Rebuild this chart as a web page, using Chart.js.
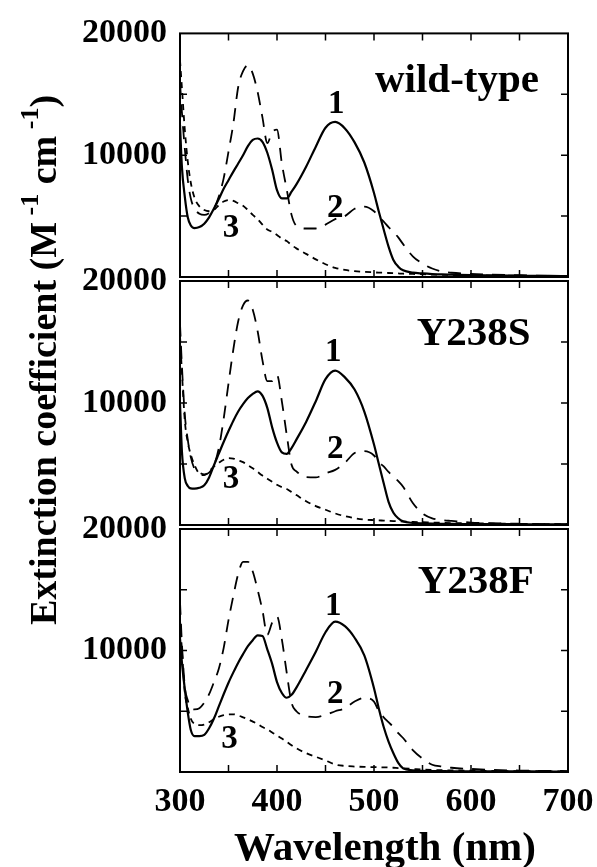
<!DOCTYPE html>
<html>
<head>
<meta charset="utf-8">
<script src="https://cdn.jsdelivr.net/npm/chart.js@4.4.0/dist/chart.umd.min.js"></script>
<style>
  body { margin: 0; background: #fff; }
  #wrap { position: relative; width: 597px; height: 867px; }
  #wrap canvas { position: absolute; left: 0; top: 0; }
</style>
</head>
<body>
<div id="wrap">
  <canvas id="p1" width="597" height="867"></canvas>
  <canvas id="p2" width="597" height="867"></canvas>
  <canvas id="p3" width="597" height="867"></canvas>
</div>
<script>
// wavelength grid (nm) shared by every curve
const wavelengths = [300, 302, 305, 308, 311, 315, 320, 325, 330, 335, 340, 345, 350, 355, 360, 365, 370, 375, 380, 385,
  390, 395, 400, 405, 410, 415, 420, 430, 440, 450, 460, 470, 480, 490, 500, 505, 510, 515, 520, 525,
  530, 540, 550, 560, 570, 580, 600, 620, 650, 680, 700];

// wild-type
const wt1 = [12500, 9000, 6560, 4900, 4250, 4020, 4100, 4380, 4900, 5620, 6400, 7250, 7950, 8650, 9320, 10000, 10750, 11250, 11370, 11100,
  10200, 8800, 7130, 6450, 6450, 7000, 7600, 9050, 10700, 12250, 12730, 12200, 11050, 9400, 6900, 5350, 3900, 2500, 1400, 850,
  550, 360, 290, 240, 210, 190, 150, 130, 110, 90, 80];
const wt2 = [16000, 13500, 10500, 8000, 6500, 5600, 5200, 5100, 5250, 5600, 6600, 8100, 10300, 12600, 15600, 16900, 17380, 16700, 15200, 13100,
  11000, 11900, 12100, 9320, 7200, 5100, 4200, 3980, 3980, 4300, 4750, 5000, 5600, 5780, 5400, 4950, 4550, 4100, 3700, 3250,
  2700, 1700, 1100, 700, 450, 350, 250, 200, 150, 100, 80];
const wt3 = [17800, 15500, 12050, 9500, 7800, 6500, 5800, 5500, 5400, 5500, 5900, 6200, 6320, 6250, 6050, 5850, 5500, 5100, 4750, 4300,
  3900, 3700, 3450, 3150, 2950, 2620, 2350, 1900, 1450, 1050, 750, 580, 480, 420, 380, 360, 350, 330, 310, 290,
  270, 250, 230, 200, 180, 160, 140, 120, 100, 80, 70];

// Y238S
const s1 = [10000, 6000, 3800, 3200, 3000, 2980, 3050, 3250, 3900, 4900, 5850, 6800, 7700, 8550, 9300, 9900, 10400, 10750, 10960, 10600,
  9600, 8000, 6750, 5950, 5830, 6310, 7000, 8450, 10150, 11950, 12650, 12100, 11100, 9300, 6600, 5000, 3420, 1900, 1000, 550,
  300, 170, 130, 110, 100, 90, 80, 70, 60, 50, 50];
const s2 = [16500, 13000, 9000, 7000, 5600, 4600, 4300, 4150, 4300, 4900, 6300, 8700, 11600, 14400, 16700, 18000, 18400, 17650, 15900, 13500,
  11800, 11800, 12300, 10140, 7400, 4940, 4400, 3920, 3900, 4230, 4520, 5100, 5900, 6050, 5700, 5150, 4800, 4350, 3950, 3600,
  3140, 1800, 950, 550, 400, 330, 200, 150, 100, 70, 50];
const s3 = [15500, 12500, 8520, 6800, 5800, 4900, 4200, 4100, 4400, 4800, 5100, 5350, 5480, 5450, 5300, 5150, 4900, 4650, 4350, 4050,
  3800, 3550, 3300, 3100, 2950, 2700, 2450, 1950, 1550, 1250, 950, 720, 560, 450, 400, 380, 360, 340, 320, 300,
  280, 250, 230, 200, 180, 160, 140, 120, 90, 70, 60];

// Y238F
const f1 = [11000, 9000, 6800, 4900, 3500, 2950, 2950, 3050, 3600, 4400, 5400, 6400, 7350, 8200, 9000, 9700, 10350, 10850, 11250, 11200,
  10100, 8900, 7400, 6500, 6110, 6350, 6950, 8400, 9900, 11500, 12370, 12000, 11050, 9600, 6900, 5200, 3700, 2500, 1540, 750,
  300, 130, 90, 80, 70, 60, 60, 60, 50, 40, 40];
const f2 = [14000, 10500, 7000, 5900, 5300, 5150, 5250, 5700, 6400, 7400, 8500, 10200, 12500, 14500, 16300, 17300, 17300, 16500, 15000, 13300,
  11300, 12300, 12800, 10920, 8170, 5700, 5000, 4600, 4520, 4700, 5000, 5250, 5800, 6100, 5800, 5000, 4500, 4100, 3700, 3200,
  2800, 1800, 1100, 600, 450, 350, 250, 180, 120, 90, 80];
const f3 = [12500, 10000, 6530, 5300, 4400, 3950, 3850, 3900, 4100, 4350, 4550, 4680, 4750, 4750, 4650, 4500, 4340, 4150, 3950, 3700,
  3500, 3250, 3000, 2750, 2480, 2200, 1950, 1550, 1250, 950, 620, 500, 450, 420, 400, 390, 380, 370, 350, 320,
  300, 250, 200, 170, 150, 130, 110, 90, 70, 60, 50];

const panelNames = ['wild-type', 'Y238S', 'Y238F'];
// panel name anchor (left edge nm, baseline value)
const nameX = [501, 544, 545];
const nameY = [15160, 14750, 14730];
// curve number labels 1, 2, 3 (centre nm, baseline value) per panel
const curveText = ['1', '2', '3'];
const curveLabelX = [[461, 460, 352.6], [458, 460, 352.6], [458, 460, 351]];
const curveLabelY = [[13440, 4920, 3280], [13440, 5490, 3030], [12920, 5680, 1975]];

const xMinorTicks = [350, 400, 450, 500, 550, 600, 650];
const yMinorTicks = [5000, 10000, 15000];

const serif = "'Liberation Serif', 'Times New Roman', serif";
Chart.defaults.font.family = serif;
Chart.defaults.font.weight = 'bold';
Chart.defaults.color = '#000';

const framePlugin = {
  id: 'frame',
  afterDatasetsDraw(chart) {
    const {ctx, chartArea: a, scales: {x, y}} = chart;
    ctx.save();
    ctx.strokeStyle = '#000';
    ctx.lineWidth = 1.5;
    ctx.beginPath();
    xMinorTicks.forEach(v => {
      const px = x.getPixelForValue(v);
      ctx.moveTo(px, a.top); ctx.lineTo(px, a.top + 7);
      ctx.moveTo(px, a.bottom); ctx.lineTo(px, a.bottom - 7);
    });
    yMinorTicks.forEach(v => {
      const py = y.getPixelForValue(v);
      ctx.moveTo(a.left, py); ctx.lineTo(a.left + 7, py);
      ctx.moveTo(a.right, py); ctx.lineTo(a.right - 7, py);
    });
    ctx.stroke();
    ctx.lineWidth = 2;
    ctx.strokeRect(a.left, a.top, a.right - a.left, a.bottom - a.top);
    ctx.restore();
  }
};

const notesPlugin = {
  id: 'notes',
  afterDraw(chart, args, opts) {
    const {ctx, scales: {x, y}} = chart;
    const i = opts.panel;
    ctx.save();
    ctx.fillStyle = '#000';
    ctx.textBaseline = 'alphabetic';
    ctx.font = 'bold 41px ' + serif;
    ctx.textAlign = 'left';
    ctx.fillText(panelNames[i], x.getPixelForValue(nameX[i]), y.getPixelForValue(nameY[i]));
    ctx.font = 'bold 33px ' + serif;
    ctx.textAlign = 'center';
    curveText.forEach((t, k) => {
      ctx.fillText(t, x.getPixelForValue(curveLabelX[i][k]), y.getPixelForValue(curveLabelY[i][k]));
    });
    ctx.restore();
  }
};

const titlesPlugin = {
  id: 'titles',
  afterDraw(chart) {
    const ctx = chart.ctx;
    ctx.save();
    ctx.fillStyle = '#000';
    ctx.textBaseline = 'alphabetic';
    // x title
    ctx.font = 'bold 41px ' + serif;
    ctx.textAlign = 'center';
    ctx.fillText('Wavelength (nm)', 385, 860);
    // y title with superscripts
    const big = 'bold 38px ' + serif, small = 'bold 26px ' + serif;
    const parts = [
      ['Extinction coefficient (M', big, 0],
      [' -1', small, -18],
      [' cm', big, 0],
      [' -1', small, -18],
      [')', big, 0]
    ];
    let total = 0;
    parts.forEach(p => { ctx.font = p[1]; total += ctx.measureText(p[0]).width; });
    ctx.translate(56, 360);
    ctx.rotate(-Math.PI / 2);
    ctx.textAlign = 'left';
    let cx = -total / 2;
    parts.forEach(p => {
      ctx.font = p[1];
      ctx.fillText(p[0], cx, p[2]);
      cx += ctx.measureText(p[0]).width;
    });
    ctx.restore();
  }
};

function makeSeries(values, style) {
  const ds = {
    data: wavelengths.map((w, i) => ({x: w, y: values[i]})),
    borderColor: '#000',
    borderWidth: 1.8,
    pointRadius: 0,
    fill: false,
    cubicInterpolationMode: 'monotone'
  };
  if (style === 'solid') ds.borderWidth = 2.2;
  if (style === 'dash') ds.borderDash = [13, 9];
  if (style === 'dot') ds.borderDash = [6, 5];
  return ds;
}

function makePanel(id, panel, series, padTop, padBottom, showX) {
  const plugins = [framePlugin, notesPlugin];
  if (showX) plugins.push(titlesPlugin);
  return new Chart(document.getElementById(id), {
    type: 'line',
    data: {
      datasets: [makeSeries(series[0], 'solid'), makeSeries(series[1], 'dash'), makeSeries(series[2], 'dot')]
    },
    options: {
      responsive: false,
      animation: false,
      layout: {padding: {left: 0, right: 29, top: padTop, bottom: padBottom}},
      plugins: {legend: {display: false}, tooltip: {enabled: false}, notes: {panel: panel}},
      scales: {
        x: {
          type: 'linear', min: 300, max: 700,
          display: showX,
          grid: {display: false, drawTicks: false},
          border: {display: false},
          ticks: {stepSize: 100, maxRotation: 0, autoSkip: false, padding: 10,
            font: {size: 34, weight: 'bold'}, callback: v => String(v)},
          afterFit: s => {
            if (showX) s.height = 95; else s.height = 0;
            s.paddingLeft = 0; s.paddingRight = 0;
          }
        },
        y: {
          min: 0, max: 20000,
          grid: {display: false, drawTicks: false},
          border: {display: false},
          ticks: {stepSize: 10000, padding: 13, font: {size: 34, weight: 'bold'},
            callback: v => (v === 0 ? '' : String(v))},
          afterFit: s => { s.width = 180; }
        }
      }
    },
    plugins: plugins
  });
}

makePanel('p1', 0, [wt1, wt2, wt3], 33, 590, false);
makePanel('p2', 1, [s1, s2, s3], 281, 342, false);
makePanel('p3', 2, [f1, f2, f3], 529, 0, true);
</script>
</body>
</html>
